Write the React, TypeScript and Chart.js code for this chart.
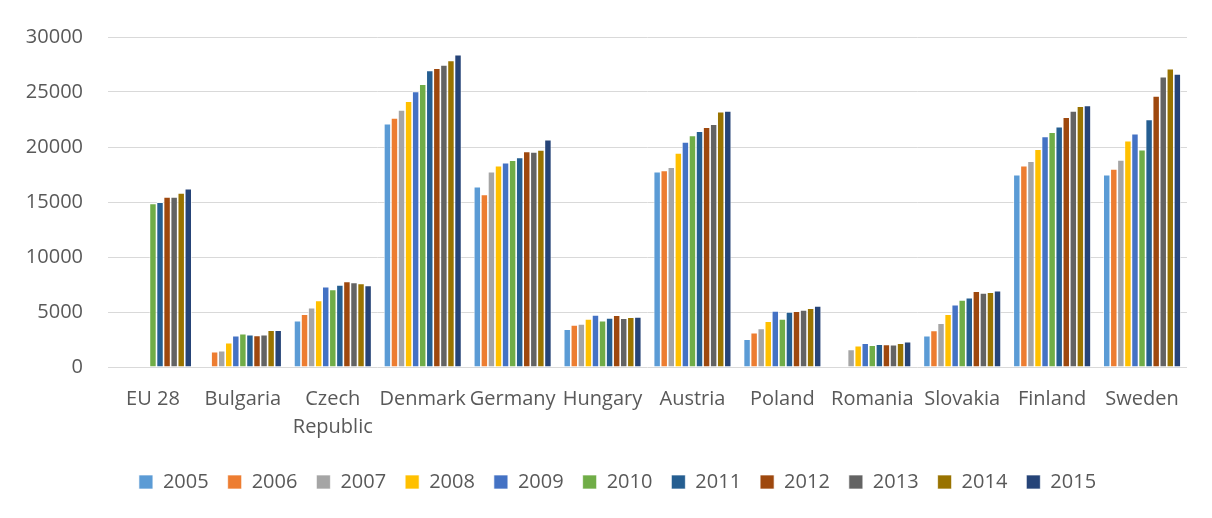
import React, { useEffect, useRef } from "react";
import { Chart, registerables } from "chart.js";
Chart.register(...registerables);

const categories: (string | string[])[] = ["EU 28", "Bulgaria", ["Czech", "Republic"], "Denmark", "Germany", "Hungary", "Austria", "Poland", "Romania", "Slovakia", "Finland", "Sweden"];
const years = ["2005", "2006", "2007", "2008", "2009", "2010", "2011", "2012", "2013", "2014", "2015"];
const colors = ["#5B9BD5", "#ED7D31", "#A5A5A5", "#FFC000", "#4472C4", "#70AD47", "#255E91", "#9E480E", "#636363", "#997300", "#264478"];

const v2005 = [null, null, 4220, 22110, 16380, 3440, 17760, 2530, null, 2840, 17490, 17490];
const v2006 = [null, 1390, 4800, 22650, 15680, 3830, 17860, 3110, null, 3320, 18310, 18010];
const v2007 = [null, 1480, 5400, 23370, 17760, 3920, 18160, 3500, 1600, 3980, 18700, 18820];
const v2008 = [null, 2200, 6060, 24160, 18310, 4370, 19450, 4160, 1930, 4800, 19790, 20570];
const v2009 = [null, 2840, 7300, 25060, 18580, 4740, 20450, 5100, 2170, 5670, 20960, 21200];
const v2010 = [14870, 3020, 7060, 25700, 18790, 4220, 21050, 4370, 1990, 6090, 21350, 19760];
const v2011 = [14990, 2930, 7450, 26960, 19060, 4460, 21440, 5010, 2080, 6300, 21840, 22500];
const v2012 = [15470, 2870, 7780, 27170, 19600, 4710, 21810, 5070, 2050, 6880, 22710, 24640];
const v2013 = [15470, 2930, 7690, 27450, 19540, 4430, 22080, 5190, 2020, 6730, 23280, 26390];
const v2014 = [15830, 3350, 7600, 27870, 19730, 4520, 23220, 5340, 2170, 6790, 23710, 27110];
const v2015 = [16200, 3350, 7420, 28380, 20660, 4550, 23280, 5550, 2290, 6940, 23770, 26630];
const series = [v2005, v2006, v2007, v2008, v2009, v2010, v2011, v2012, v2013, v2014, v2015];

const FONT = "'Open Sans', 'Noto Sans', sans-serif";
const TEXT = "#595959";

const legendShift = {
  id: "legendShift",
  afterLayout(chart: any) {
    const l = chart.legend;
    if (!l) return;
    l.left += 20;
    l.right += 20;
    l.top -= 7;
    l.bottom -= 7;
  },
};

export default function App() {
  const ref = useRef<HTMLCanvasElement | null>(null);
  useEffect(() => {
    if (!ref.current) return;
    const chart = new Chart(ref.current, {
      type: "bar",
      data: {
        labels: categories,
        datasets: years.map((y, i) => ({
          label: y,
          data: series[i],
          backgroundColor: colors[i],
          borderColor: "rgba(255,255,255,0.85)",
          borderWidth: 0.8,
          barPercentage: 1,
          categoryPercentage: 0.864,
        })),
      },
      plugins: [legendShift],
      options: {
        responsive: false,
        animation: false,
        layout: { padding: { left: 0, right: 39, top: 29, bottom: 9 } },
        plugins: {
          tooltip: { enabled: false },
          legend: {
            position: "bottom",
            labels: {
              boxWidth: 14,
              boxHeight: 14,
              padding: 19,
              color: TEXT,
              font: { family: FONT, size: 20 },
            },
          },
        },
        scales: {
          x: {
            grid: { display: false, drawTicks: false },
            border: { display: false },
            ticks: {
              autoSkip: false,
              maxRotation: 0,
              minRotation: 0,
              padding: 19,
              color: TEXT,
              font: { family: FONT, size: 20, lineHeight: 1.375 },
            },
          },
          y: {
            min: 0,
            max: 30000,
            afterFit: (scale: any) => {
              scale.width = 100;
            },
            grid: { color: "#d9d9d9", lineWidth: 1, drawTicks: true, tickLength: 25, tickColor: "rgba(0,0,0,0)" },
            border: { display: false },
            ticks: {
              stepSize: 5000,
              padding: 0,
              color: TEXT,
              font: { family: FONT, size: 20 },
              callback: (v: any) => String(v),
            },
          },
        },
      },
    });
    return () => chart.destroy();
  }, []);
  return (
    <div style={{ marginLeft: -1, marginTop: -1, borderLeft: "1px solid #d9d9d9", borderTop: "1px solid #d9d9d9", width: 1204, height: 511, overflow: "hidden" }}>
      <canvas ref={ref} width={1218} height={510} style={{ display: "block" }} />
    </div>
  );
}
